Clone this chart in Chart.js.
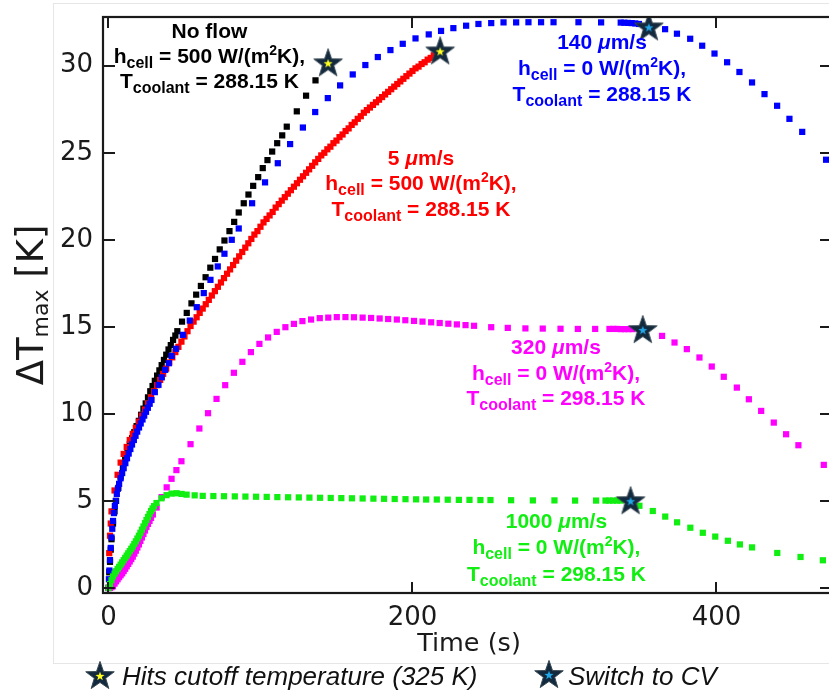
<!DOCTYPE html>
<html>
<head>
<meta charset="utf-8">
<script src="https://cdn.jsdelivr.net/npm/chart.js@4.4.1/dist/chart.umd.min.js"></script>
<style>
  html, body { margin: 0; padding: 0; background: #ffffff; overflow: hidden; }
  #wrap { position: relative; width: 829px; height: 692px; overflow: hidden; }
  #chart { position: absolute; left: 0; top: 0; }
</style>
</head>
<body>
<div id="wrap"><canvas id="chart" width="840" height="692"></canvas></div>
<script>
// ---- Data: time (s) and max temperature rise (K) for each flow case ----
const noFlowTime = [0,0.5,1,1.5,2,3,4,5,6.5,8,9.5,11,12.5,14,15.5,17,18.5,20,21.5,23,24.5,26,27.5,29,30.5,32,33.5,35,36.5,38,39.5,41,42.5,44,45.3,48.4,51.5,54.6,57.7,60.8,63.9,67,70.1,73.2,76.3,79.6,82.7,85.7,89,92.1,95.2,98.5,101.5,104.6,107.7,111,114.3,117.3,123.9,130,136.2];
const noFlowDT   = [0,0.9,1.5,2.2,2.8,3.7,4.4,5.0,5.75,6.4,6.95,7.45,7.85,8.25,8.6,8.95,9.3,9.6,9.95,10.3,10.6,10.95,11.3,11.6,11.9,12.2,12.5,12.8,13.1,13.4,13.7,13.95,14.25,14.5,14.75,15.3,15.8,16.35,16.85,17.35,17.85,18.4,18.9,19.45,19.96,20.5,21.03,21.57,22.1,22.6,23.1,23.6,24.12,24.58,25.07,25.55,26.0,26.5,27.38,28.28,29.16];

const flow5Time = [0,0.5,1,1.5,2,4,6,8,10,12,14,16,18,20,22,24,26,28,30,32,34,36,38,40,42,44,46,48,50,52,54,56,58,60,62,64,66,68,70,72,74,76,78,80,82,84,86,88,90,92,94,96,98,100,102,104,106,108,110,112,114,116,118,120,122,124,126,128,130,132,134,136,138,140,142,144,146,148,150,152,154,156,158,160,162,164,166,168,170,172,174,176,178,180,182,184,186,188,190,192,194,196,198,200,202,204,206,208,210,212,214,216,218];
const flow5DT   = [0,2.0,3.0,3.7,4.4,5.6,6.5,7.2,7.7,8.1,8.5,8.85,9.2,9.55,9.9,10.25,10.6,10.95,11.3,11.65,11.95,12.3,12.6,12.95,13.25,13.55,13.85,14.15,14.45,14.75,15.05,15.3,15.55,15.8,16.05,16.3,16.55,16.8,17.05,17.3,17.55,17.8,18.05,18.3,18.55,18.8,19.05,19.3,19.55,19.8,20.05,20.3,20.5,20.75,21.0,21.2,21.4,21.6,21.85,22.05,22.25,22.45,22.65,22.85,23.05,23.25,23.45,23.65,23.85,24.05,24.25,24.45,24.65,24.85,25.0,25.2,25.35,25.55,25.7,25.9,26.05,26.25,26.4,26.6,26.75,26.95,27.1,27.3,27.45,27.6,27.75,27.9,28.05,28.2,28.35,28.5,28.65,28.8,28.95,29.1,29.25,29.4,29.55,29.7,29.85,29.95,30.1,30.2,30.35,30.45,30.6,30.7,30.85];

const flow140Time = [0,0.3,0.6,1,1.5,2,2.5,3,3.6,4.2,4.8,5.5,6.2,7,8,9,10,11.1,12.2,13.3,14.4,15.5,16.7,17.8,18.9,20.1,21.2,22.4,23.5,24.7,25.9,27.1,28.3,30.5,32.9,35.1,37.3,39.7,41.6,44.5,48.9,53.5,58.1,62.7,67.1,71.9,76.3,81.1,85.7,94.5,103,111.4,119.5,127.9,136,144.3,152.4,160.7,169,177.2,185.5,193.6,202,210.7,218.8,226.9,235.3,243.4,251.8,259.9,268.2,276.3,284.6,292.8,309.2,324.1,337,339.4,341.8,344.2,346.6,349,366.2,374,382.7,390.6,398.7,407,415.1,423.4,431.6,439.9,448,456.4,472.1];
const flow140DT   = [0,0.5,1.0,1.6,2.3,2.9,3.4,3.85,4.3,4.7,5.0,5.4,5.7,5.98,6.3,6.6,6.88,7.17,7.45,7.72,7.98,8.24,8.5,8.74,8.98,9.22,9.45,9.68,9.9,10.12,10.35,10.58,10.8,11.25,11.67,12.1,12.53,12.91,13.33,13.74,14.54,15.36,16.13,16.94,17.7,18.47,19.2,20.0,20.65,22.1,23.3,24.4,25.5,26.45,27.34,28.14,28.87,29.5,30.04,30.5,30.9,31.26,31.57,31.8,32.0,32.16,32.3,32.4,32.45,32.49,32.49,32.5,32.5,32.5,32.5,32.49,32.48,32.47,32.46,32.45,32.43,32.4,32.1,31.84,31.55,31.15,30.7,30.2,29.64,29.04,28.37,27.7,26.95,26.2,24.6];

const flow320Time = [0,1,2,3,4,5,6,7,8,9,10,11,12,13,14,15,16,17,18,19,20,21,22,23,24,25,26,27,28,29.2,31.7,35,38.3,41.5,44.7,48,54,59.8,65.5,71.1,76.8,82.5,88.1,93.7,99.3,105,110.7,116.4,122,127.6,133.3,139,144.6,150.2,155.9,161.5,167.2,172.8,178.4,184,189.7,195.3,201,206.6,212.3,217.9,223.6,229.2,234.9,240.5,251.8,262.7,274.3,285.7,297.4,308.8,320.2,329.6,332.1,334.6,337.1,339.6,342.1,344.6,364.2,372.4,380.5,388.8,396.9,404.8,413.4,421.3,429.4,437.7,445.8,453.9,470.6];
const flow320DT   = [0,0,0.05,0.1,0.25,0.38,0.5,0.62,0.73,0.84,0.97,1.1,1.24,1.38,1.52,1.66,1.8,1.97,2.14,2.32,2.5,2.7,2.9,3.1,3.3,3.5,3.68,3.85,4.02,4.22,4.62,5.22,5.78,6.27,6.77,7.28,8.26,9.16,10.04,10.86,11.65,12.36,12.99,13.55,14.02,14.39,14.71,14.98,15.17,15.33,15.42,15.5,15.53,15.56,15.56,15.55,15.53,15.51,15.48,15.45,15.42,15.38,15.34,15.3,15.26,15.22,15.18,15.14,15.1,15.06,14.98,14.94,14.91,14.9,14.89,14.88,14.88,14.88,14.88,14.88,14.87,14.87,14.87,14.87,14.48,14.1,13.72,13.24,12.72,12.13,11.51,10.84,10.17,9.5,8.83,8.2,7.07];

const flow1000Time = [0,1,2,3,4,5,6,7,8,9,10,11,12,13,14,15,16,17,18,19,20,21,22,23,24,25,26,27,28,29,30,31.6,34.9,38.2,41.5,44.8,48.1,51.4,56.7,62,69,76,83.1,90.1,97.1,104.1,111.1,118.2,125.2,132.2,139.2,146.2,153.2,160.2,167.2,174.3,181.3,188.3,195.4,202.4,209,216,223.2,230.5,237.5,244.7,251.3,264.9,279.2,293.4,307,320.8,327,329.5,332,334.5,337,349.3,358.1,366.3,374.1,382.8,391,399.2,407.5,415.4,423.4,440,455.3,470];
const flow1000DT   = [0,0.22,0.45,0.66,0.82,0.96,1.09,1.21,1.34,1.47,1.6,1.73,1.86,1.99,2.12,2.25,2.38,2.53,2.68,2.84,3.0,3.17,3.35,3.53,3.72,3.9,4.08,4.25,4.42,4.57,4.7,4.88,5.15,5.33,5.42,5.44,5.4,5.36,5.32,5.29,5.28,5.27,5.26,5.25,5.24,5.23,5.22,5.21,5.2,5.19,5.18,5.17,5.16,5.15,5.14,5.13,5.12,5.11,5.1,5.09,5.08,5.08,5.07,5.06,5.06,5.05,5.05,5.04,5.03,5.03,5.02,5.02,5.02,5.02,5.02,5.02,5.02,4.72,4.42,4.1,3.77,3.46,3.17,2.95,2.71,2.5,2.33,2.01,1.78,1.59];

// Event markers
const cutoffTime = [144.5, 218.2];
const cutoffDT   = [30.2, 30.88];
const cvTime = [355.5, 351.5, 343.5];
const cvDT   = [32.26, 14.87, 5.04];

// Axes
const xTickValues = [0, 200, 400];
const yTickValues = [0, 5, 10, 15, 20, 25, 30];
const xRange = [-3.6, 476];
const yRange = [-0.29, 32.8];

// Text
const xTitle = 'Time (s)';
const yTitle = [{ t: 'ΔT' }, { t: 'max', sub: true }, { t: ' [K]' }];
const legendItems = ['Hits cutoff temperature (325 K)', 'Switch to CV'];

const hLine = (v) => [{ t: 'h' }, { t: 'cell', sub: true }, { t: ' = ' + v + ' W/(m' }, { t: '2', sup: true }, { t: 'K),' }];
const tLine = (v) => [{ t: 'T' }, { t: 'coolant', sub: true }, { t: ' = ' + v + ' K' }];
const speedLine = (v) => [{ t: v + ' ' }, { t: 'μ', it: true }, { t: 'm/s' }];

const notes = [
  { color: '#000000', t: 66.4, v: 31.6, gap: 25.3, lines: [[{ t: 'No flow' }], hLine('500'), tLine('288.15')] },
  { color: '#ff0000', t: 205.6, v: 24.31, gap: 25.5, lines: [speedLine('5'), hLine('500'), tLine('288.15')] },
  { color: '#0000ff', t: 324.7, v: 30.98, gap: 26.2, lines: [speedLine('140'), hLine('0'), tLine('288.15')] },
  { color: '#ff00ff', t: 294.4, v: 13.45, gap: 25.8, lines: [speedLine('320'), hLine('0'), tLine('298.15')] },
  { color: '#11ee11', t: 294.7, v: 3.45, gap: 26.5, lines: [speedLine('1000'), hLine('0'), tLine('298.15')] }
];

// ---- Helpers ----
const toPoints = (ts, vs) => ts.map((t, i) => ({ x: t, y: vs[i] }));

function starPath(g, cx, cy, R, r) {
  g.beginPath();
  for (let i = 0; i < 10; i++) {
    const rad = i % 2 ? r : R;
    const a = -Math.PI / 2 + i * Math.PI / 5;
    const px = cx + rad * Math.cos(a), py = cy + rad * Math.sin(a);
    if (i) g.lineTo(px, py); else g.moveTo(px, py);
  }
  g.closePath();
}

function makeStar(R, innerColor) {
  const s = Math.ceil(R * 2 + 4);
  const c = document.createElement('canvas');
  c.width = c.height = s;
  const g = c.getContext('2d');
  const cx = s / 2, cy = s / 2 + 0.095 * R;
  starPath(g, cx, cy, R, R * 0.4);
  g.fillStyle = '#13293d';
  g.fill();
  g.lineWidth = 1;
  g.strokeStyle = '#3a4a55';
  g.stroke();
  starPath(g, cx, cy, R * 0.32, R * 0.32 * 0.4);
  g.fillStyle = innerColor;
  g.fill();
  return c;
}

const cutoffStar = makeStar(15, '#ffff22');
const cvStar = makeStar(15, '#22a8e8');

function drawRich(ctx, segs, x, y, opts) {
  const fontFor = (s) => {
    const size = s.sub ? opts.sub : s.sup ? opts.sup : opts.size;
    return (s.it ? 'italic ' : '') + opts.weight + ' ' + size + 'px ' + opts.family;
  };
  let w = 0;
  const widths = segs.map(s => { ctx.font = fontFor(s); const m = ctx.measureText(s.t).width; w += m; return m; });
  let cx = opts.align === 'center' ? x - w / 2 : x;
  segs.forEach((s, i) => {
    ctx.font = fontFor(s);
    const dy = s.sub ? opts.subDy : s.sup ? opts.supDy : 0;
    ctx.fillText(s.t, cx, y + dy);
    cx += widths[i];
  });
}

// Frame, ticks, titles, annotations and legend
const decorations = {
  id: 'decorations',
  afterDatasetsDraw(chart) {
    const { ctx, chartArea: a, scales: { x, y } } = chart;
    ctx.save();
    ctx.strokeStyle = '#1a1a1a';
    ctx.lineWidth = 2;
    const seg = (x1, y1, x2, y2) => { ctx.beginPath(); ctx.moveTo(x1, y1); ctx.lineTo(x2, y2); ctx.stroke(); };
    xTickValues.forEach(v => {
      const px = Math.round(x.getPixelForValue(v));
      seg(px, a.bottom, px, a.bottom - 11);
      seg(px, a.top, px, a.top + 11);
    });
    yTickValues.forEach(v => {
      const py = Math.round(y.getPixelForValue(v));
      seg(a.left, py, a.left + 12, py);
      seg(a.right, py, a.right - 12, py);
    });
    ctx.lineWidth = 2.2;
    ctx.strokeRect(a.left, a.top, a.right - a.left, a.bottom - a.top);
    ctx.restore();
  },
  afterDraw(chart) {
    const { ctx, chartArea: a, scales: { x, y } } = chart;
    ctx.save();

    // light outline of the figure panel
    ctx.strokeStyle = '#e6e6e6';
    ctx.lineWidth = 1;
    ctx.strokeRect(53.5, 3.5, 900, 660);

    // annotations
    ctx.textBaseline = 'alphabetic';
    notes.forEach(n => {
      ctx.fillStyle = n.color;
      const cx = x.getPixelForValue(n.t);
      const by = y.getPixelForValue(n.v);
      n.lines.forEach((line, i) => {
        drawRich(ctx, line, cx, by + i * n.gap, {
          family: '"Liberation Sans", Arial, sans-serif', weight: 'bold',
          size: 21, sub: 16, sup: 14, subDy: 5, supDy: -8, align: 'center'
        });
      });
    });

    // x title
    ctx.fillStyle = '#1a1a1a';
    ctx.font = '25.5px "DejaVu Sans"';
    ctx.textAlign = 'center';
    ctx.fillText(xTitle, 469, 651);
    ctx.textAlign = 'left';

    // y title (rotated)
    ctx.save();
    ctx.translate(43, (a.top + a.bottom) / 2);
    ctx.rotate(-Math.PI / 2);
    drawRich(ctx, yTitle, 0, 0, {
      family: '"DejaVu Sans"', weight: 'normal',
      size: 37, sub: 22, sup: 22, subDy: 5, supDy: -10, align: 'center'
    });
    ctx.restore();

    // legend
    ctx.font = 'italic 26px "Liberation Sans", Arial, sans-serif';
    ctx.fillStyle = '#111111';
    ctx.drawImage(cutoffStar, 100 - cutoffStar.width / 2, 675 - cutoffStar.height / 2);
    ctx.fillText(legendItems[0], 122, 685);
    ctx.drawImage(cvStar, 549 - cvStar.width / 2, 674 - cvStar.height / 2);
    ctx.fillText(legendItems[1], 568, 685);
    ctx.restore();
  }
};

const markerBase = { pointStyle: 'rect', pointRadius: 4.4, pointHoverRadius: 4.4, pointBorderWidth: 0, showLine: false };

new Chart(document.getElementById('chart'), {
  type: 'scatter',
  data: {
    datasets: [
      { label: 'Hits cutoff temperature (325 K)', data: toPoints(cutoffTime, cutoffDT), pointStyle: cutoffStar, pointRadius: 15, order: 0 },
      { label: 'Switch to CV', data: toPoints(cvTime, cvDT), pointStyle: cvStar, pointRadius: 15, order: 0 },
      { label: '1000 μm/s', data: toPoints(flow1000Time, flow1000DT), ...markerBase, backgroundColor: '#11ee11', order: 1 },
      { label: '320 μm/s', data: toPoints(flow320Time, flow320DT), ...markerBase, backgroundColor: '#ff00ff', order: 2 },
      { label: '140 μm/s', data: toPoints(flow140Time, flow140DT), ...markerBase, backgroundColor: '#0000ff', order: 3 },
      { label: '5 μm/s', data: toPoints(flow5Time, flow5DT), ...markerBase, backgroundColor: '#ff0000', order: 4 },
      { label: 'No flow', data: toPoints(noFlowTime, noFlowDT), ...markerBase, backgroundColor: '#000000', order: 5 }
    ]
  },
  options: {
    responsive: false,
    animation: false,
    devicePixelRatio: 1,
    events: [],
    layout: { autoPadding: false, padding: { top: 17, right: 8, left: 0, bottom: 0 } },
    plugins: { legend: { display: false }, tooltip: { enabled: false } },
    scales: {
      x: {
        type: 'linear', min: xRange[0], max: xRange[1],
        grid: { display: false, drawTicks: false },
        border: { display: false },
        ticks: { font: { family: 'DejaVu Sans', size: 26 }, color: '#1a1a1a', padding: 10, maxRotation: 0 },
        afterBuildTicks: s => { s.ticks = xTickValues.map(v => ({ value: v })); },
        afterFit: s => { s.height = 99; s.paddingLeft = 0; s.paddingRight = 0; }
      },
      y: {
        type: 'linear', min: yRange[0], max: yRange[1],
        grid: { display: false, drawTicks: false },
        border: { display: false },
        ticks: { font: { family: 'DejaVu Sans', size: 26 }, color: '#1a1a1a', padding: 10 },
        afterBuildTicks: s => { s.ticks = yTickValues.map(v => ({ value: v })); },
        afterFit: s => { s.width = 103; s.paddingTop = 0; s.paddingBottom = 0; }
      }
    }
  },
  plugins: [decorations]
});
</script>
</body>
</html>
